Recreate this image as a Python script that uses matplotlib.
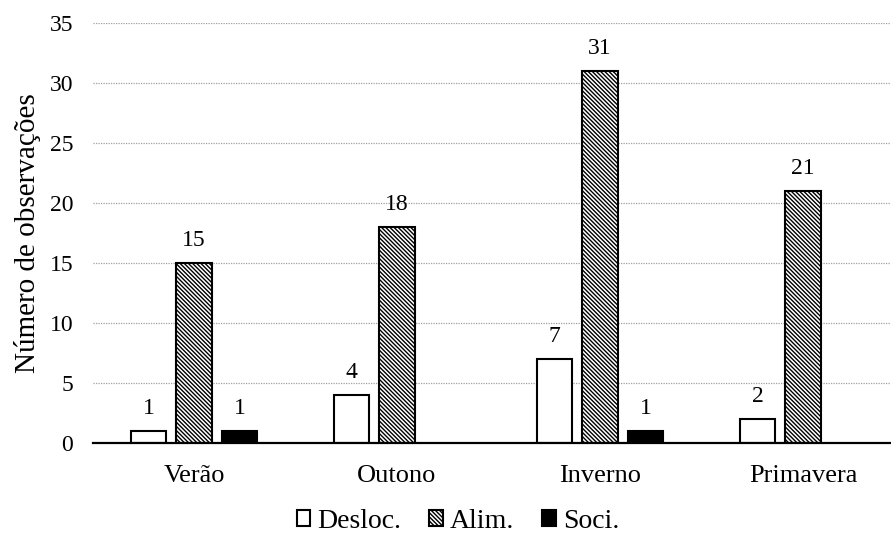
import matplotlib
matplotlib.use("Agg")
import matplotlib.pyplot as plt
import numpy as np

plt.rcParams['font.family'] = ['Liberation Serif', 'DejaVu Serif']
plt.rcParams['hatch.linewidth'] = 1.0

seasons = ["Verão", "Outono", "Inverno", "Primavera"]
desloc = [1, 4, 7, 2]
alim = [15, 18, 31, 21]
soci = [1, 0, 1, 0]
series_names = ["Desloc.", "Alim.", "Soci."]

W, H = 891, 541
fig = plt.figure(figsize=(W / 100, H / 100), dpi=100)
# plot area in pixels: left 92.5, right 904.5 (runs past the canvas edge), top 23, bottom 443
ax = fig.add_axes([92.5 / W, 1 - 443 / H, 812 / W, 420 / H])

x = np.arange(len(seasons))
w = 0.177
step = 0.224

b1 = ax.bar(x - step, desloc, w, facecolor="white", edgecolor="black",
            linewidth=1.5, label=series_names[0], zorder=3)
b2 = ax.bar(x, alim, w, facecolor="white", edgecolor="black", linewidth=1.5,
            hatch="\\" * 8, label=series_names[1], zorder=3)
soci_vals = [v if v > 0 else np.nan for v in soci]
b3 = ax.bar(x + step, soci_vals, w, facecolor="black", edgecolor="black",
            linewidth=1.5, label=series_names[2], zorder=3)

for bars, vals in ((b1, desloc), (b2, alim), (b3, soci)):
    for rect, v in zip(bars, vals):
        if v > 0:
            ax.text(rect.get_x() + rect.get_width() / 2, v + 1.42, str(v),
                    ha="center", va="baseline", fontsize=17)

ax.set_xlim(-0.5, len(seasons) - 0.5)
ax.set_ylim(0, 35)
ax.set_yticks(range(0, 36, 5))
ax.set_xticks(x)
ax.set_xticklabels(seasons, fontsize=19)
ax.tick_params(axis="y", labelsize=17, length=0, pad=14)
ax.tick_params(axis="x", length=0, pad=16)
ax.yaxis.grid(True, linestyle=(0, (1, 1)), color="#a0a0a0", linewidth=0.9, zorder=0)
for s in ("top", "right", "left"):
    ax.spines[s].set_visible(False)
ax.spines["bottom"].set_linewidth(1.6)
ax.spines["bottom"].set_zorder(4)
ax.set_ylabel("Número de observações", fontsize=21, labelpad=6)

fig.legend(handles=[b1, b2, b3], labels=series_names, loc="center",
           bbox_to_anchor=(458 / W, 1 - 521 / H), ncol=3, frameon=False,
           fontsize=20, handlelength=0.5, handleheight=0.5,
           handletextpad=0.25, columnspacing=1.0)

fig.savefig("out.png", dpi=100)
